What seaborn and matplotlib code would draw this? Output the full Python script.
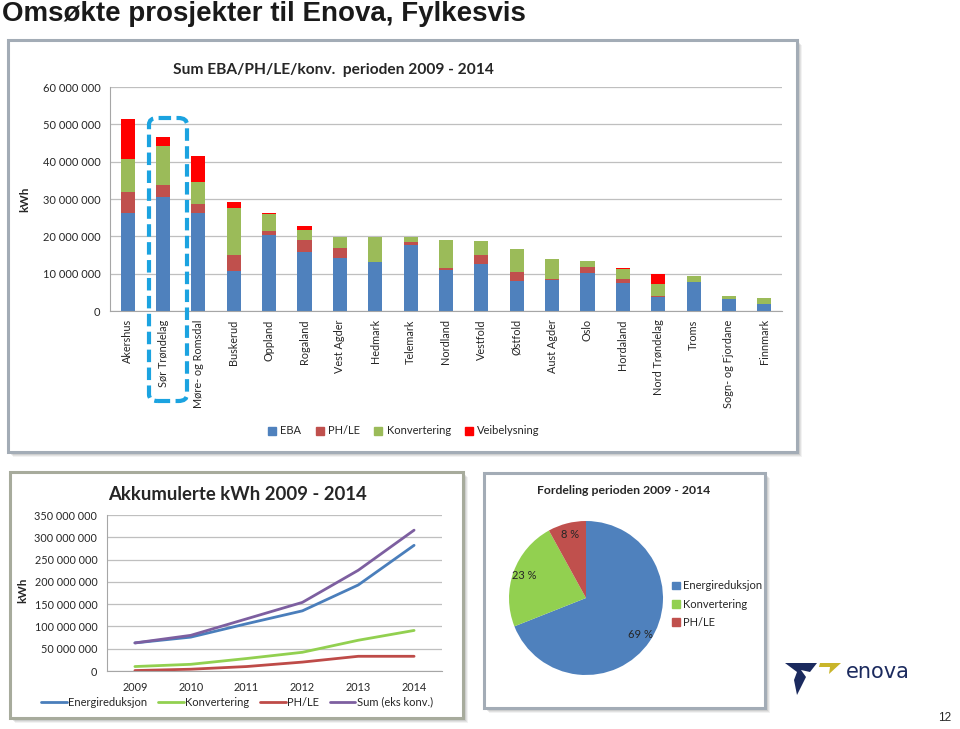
import numpy as np
import pandas as pd
import matplotlib.pyplot as plt
import seaborn as sns
from matplotlib.patches import Rectangle, FancyBboxPatch, Polygon, Patch
from matplotlib.lines import Line2D
from matplotlib.ticker import FuncFormatter, FixedLocator

sns.set_style("white")
plt.rcParams["font.family"] = ["Lato", "DejaVu Sans"]

# Data (mill. kWh)
fylker = ["Akershus", "Sør Trøndelag", "Møre- og Romsdal", "Buskerud", "Oppland",
          "Rogaland", "Vest Agder", "Hedmark", "Telemark", "Nordland", "Vestfold",
          "Østfold", "Aust Agder", "Oslo", "Hordaland", "Nord Trøndelag", "Troms",
          "Sogn- og Fjordane", "Finnmark"]
eba = [26.3, 30.6, 26.2, 10.8, 20.4, 15.7, 14.3, 13.0, 17.7, 11.0, 12.6,
       8.1, 8.3, 10.3, 7.4, 3.8, 7.8, 3.1, 1.9]
ph_le = [5.7, 3.2, 2.5, 4.3, 1.0, 3.3, 2.7, 0.0, 0.9, 0.4, 2.5,
         2.4, 0.4, 1.6, 1.2, 0.1, 0.0, 0.1, 0.1]
konv = [8.6, 10.5, 5.9, 12.6, 4.6, 2.7, 2.9, 6.9, 1.1, 7.6, 3.6,
        6.2, 5.2, 1.6, 2.6, 3.3, 1.6, 0.7, 1.5]
veib = [10.8, 2.4, 7.0, 1.4, 0.3, 1.1, 0.0, 0.0, 0.0, 0.0, 0.0,
        0.0, 0.0, 0.0, 0.2, 2.8, 0.0, 0.0, 0.0]

years = [2009, 2010, 2011, 2012, 2013, 2014]
acc_energi = [63, 76, 106, 135, 193, 282]
acc_konv = [10, 15, 28, 42, 69, 91]
acc_phle = [1, 4, 10, 20, 33, 33]
acc_sum = [63, 80, 117, 154, 226, 316]

pie_labels = ["Energireduksjon", "Konvertering", "PH/LE"]
pie_share = [69, 23, 8]

C_EBA, C_PH, C_KONV, C_VEIB = "#4F81BD", "#C0504D", "#9BBB59", "#FF0000"
GRID = "#BFBFBF"
AX = "#A6A6A6"

W, H = 960, 729
fig = plt.figure(figsize=(9.6, 7.29), dpi=100)


def fx(x):
    return x / W


def fy(y):
    return 1 - y / H


def rect(x0, y0, x1, y1):
    return [fx(x0), fy(y1), fx(x1) - fx(x0), fy(y0) - fy(y1)]


def frame(x0, y0, x1, y1, edge):
    for i, a in enumerate([0.10, 0.14, 0.18]):
        fig.add_artist(Rectangle((fx(x0 + 5 - i), fy(y1 + 5 - i)), fx(x1 - x0), fy(0) - fy(y1 - y0),
                                 transform=fig.transFigure, facecolor="#808080", alpha=a,
                                 edgecolor="none", zorder=-3))
    fig.add_artist(Rectangle((fx(x0), fy(y1)), fx(x1 - x0), fy(0) - fy(y1 - y0),
                             transform=fig.transFigure, facecolor="white", edgecolor=edge,
                             linewidth=2.2, zorder=-2))


def mill(v, pos=None):
    return f"{v:,.0f}".replace(",", " ")


frame(8, 40, 797, 452, "#A3ACB6")
frame(10, 472, 463, 718, "#A7AB9C")
frame(484, 473, 765, 708, "#A3ACB6")

# ---- stacked bars per county
ax1 = fig.add_axes(rect(110, 87, 782, 311))
df = pd.DataFrame({"fylke": fylker, "EBA": eba, "PH/LE": ph_le,
                   "Konvertering": konv, "Veibelysning": veib})
cols = ["EBA", "PH/LE", "Konvertering", "Veibelysning"]
cum = df[cols].cumsum(axis=1) * 1e6
for name, col in [("Veibelysning", C_VEIB), ("Konvertering", C_KONV),
                  ("PH/LE", C_PH), ("EBA", C_EBA)]:
    sns.barplot(x=df["fylke"], y=cum[name], color=col, saturation=1,
                width=0.4, linewidth=0, ax=ax1)
ax1.set_ylim(0, 60e6)
ax1.set_xlim(-0.5, len(fylker) - 0.5)
ax1.set_yticks(np.arange(0, 61e6, 10e6))
ax1.yaxis.set_major_formatter(FuncFormatter(mill))
ax1.yaxis.grid(True, color=GRID, lw=0.9)
ax1.set_axisbelow(True)
ax1.set_xlabel("")
ax1.set_ylabel("kWh", fontweight="bold", fontsize=8.5)
ax1.yaxis.set_label_coords(-0.118, 0.5)
ax1.tick_params(axis="x", rotation=90, labelsize=7.8, length=0, pad=6)
ax1.tick_params(axis="y", labelsize=8, length=4, color=AX, pad=3)
ax1.xaxis.set_minor_locator(FixedLocator(np.arange(-0.5, len(fylker), 1)))
ax1.tick_params(axis="x", which="minor", length=4, color=AX)
for s in ["top", "right"]:
    ax1.spines[s].set_visible(False)
for s in ["left", "bottom"]:
    ax1.spines[s].set_color(AX)
fig.text(fx(333), fy(70), "Sum EBA/PH/LE/konv.  perioden 2009 - 2014",
         fontsize=11.2, fontweight="bold", ha="center", va="center")
fig.legend(handles=[Patch(color=c, label=n) for n, c in
                    zip(cols, [C_EBA, C_PH, C_KONV, C_VEIB])],
           loc="center", bbox_to_anchor=(fx(404), fy(431)), ncol=4, frameon=False,
           fontsize=8, handlelength=0.7, handleheight=0.7, handletextpad=0.4,
           columnspacing=1.3)

# dashed highlight around Sør Trøndelag
fig.add_artist(FancyBboxPatch((fx(149), fy(401)), fx(38), fy(0) - fy(283),
                              boxstyle="round,pad=0,rounding_size=0.009",
                              transform=fig.transFigure, facecolor="none",
                              edgecolor="#1BA3E0", linewidth=3,
                              linestyle=(0, (3, 1.3)), zorder=5))

# ---- accumulated lines
ax2 = fig.add_axes(rect(107, 515, 442, 671))
lines = [("Energireduksjon", acc_energi, "#4A7EBB"), ("Konvertering", acc_konv, "#92D050"),
         ("PH/LE", acc_phle, "#BE4B48"), ("Sum (eks konv.)", acc_sum, "#7D5FA0")]
for name, vals, col in lines:
    sns.lineplot(x=years, y=np.array(vals) * 1e6, color=col, lw=2, ax=ax2)
ax2.set_ylim(0, 350e6)
ax2.set_xlim(2008.5, 2014.5)
ax2.set_xticks(years)
ax2.set_yticks(np.arange(0, 351e6, 50e6))
ax2.yaxis.set_major_formatter(FuncFormatter(mill))
ax2.yaxis.grid(True, color=GRID, lw=0.9)
ax2.set_axisbelow(True)
ax2.xaxis.set_minor_locator(FixedLocator(np.arange(2008.5, 2015, 1)))
ax2.tick_params(axis="x", labelsize=7.8, length=0, pad=8)
ax2.tick_params(axis="x", which="minor", length=4, color=AX)
ax2.tick_params(axis="y", labelsize=7.8, length=4, color=AX, pad=3)
ax2.set_ylabel("kWh", fontweight="bold", fontsize=8.5)
ax2.yaxis.set_label_coords(-0.236, 0.52)
for s in ["top", "right"]:
    ax2.spines[s].set_visible(False)
for s in ["left", "bottom"]:
    ax2.spines[s].set_color(AX)
fig.text(fx(237), fy(494), "Akkumulerte kWh 2009 - 2014",
         fontsize=13.3, fontweight="bold", ha="center", va="center")
fig.legend(handles=[Line2D([], [], color=c, lw=2, label=n) for n, _, c in lines],
           loc="center", bbox_to_anchor=(fx(237), fy(702)), ncol=4, frameon=False,
           fontsize=8, handlelength=2.3, handletextpad=0.1, columnspacing=1.0)

# ---- pie
ax3 = fig.add_axes(rect(509, 521, 663, 675))
pie_cols = ["#4F81BD", "#92D050", "#C0504D"]
ax3.pie(pie_share, colors=pie_cols, startangle=90, counterclock=False,
        autopct=lambda p: f"{p:.0f} %", pctdistance=0.85,
        wedgeprops=dict(linewidth=0), textprops=dict(fontsize=8))
ax3.set_xlim(-1, 1)
ax3.set_ylim(-1, 1)
ax3.set_aspect("equal")
fig.text(fx(624), fy(491), "Fordeling perioden 2009 - 2014",
         fontsize=8.8, fontweight="bold", ha="center", va="center")
fig.legend(handles=[Patch(color=c, label=n) for n, c in zip(pie_labels, pie_cols)],
           loc="center left", bbox_to_anchor=(fx(662), fy(604)), frameon=False,
           fontsize=8, handlelength=0.7, handleheight=0.7, handletextpad=0.3,
           labelspacing=0.65)

# ---- slide title, logo, page number
fig.text(fx(2), fy(14), "Omsøkte prosjekter til Enova, Fylkesvis", fontsize=20,
         fontweight="bold", family=["Liberation Sans", "DejaVu Sans"],
         color="#1A1A1A", ha="left", va="center")
navy = [(785, 663), (817, 663), (810, 672), (801, 670), (806, 677), (797, 695),
        (794, 680), (797, 672)]
gold = [(820, 663), (841, 663), (829, 674), (830, 667), (819, 667)]
fig.add_artist(Polygon([(fx(a), fy(b)) for a, b in navy], closed=True,
                       transform=fig.transFigure, color="#1B2A5E", lw=0))
fig.add_artist(Polygon([(fx(a), fy(b)) for a, b in gold], closed=True,
                       transform=fig.transFigure, color="#C9B52A", lw=0))
fig.text(fx(846), fy(672), "enova", fontsize=15, color="#1B2A5E",
         family=["DejaVu Sans"], ha="left", va="center")
fig.text(fx(945), fy(718), "12", fontsize=8.5, family=["Liberation Sans", "DejaVu Sans"],
         ha="center", va="center")

fig.savefig("out.png", dpi=100)
